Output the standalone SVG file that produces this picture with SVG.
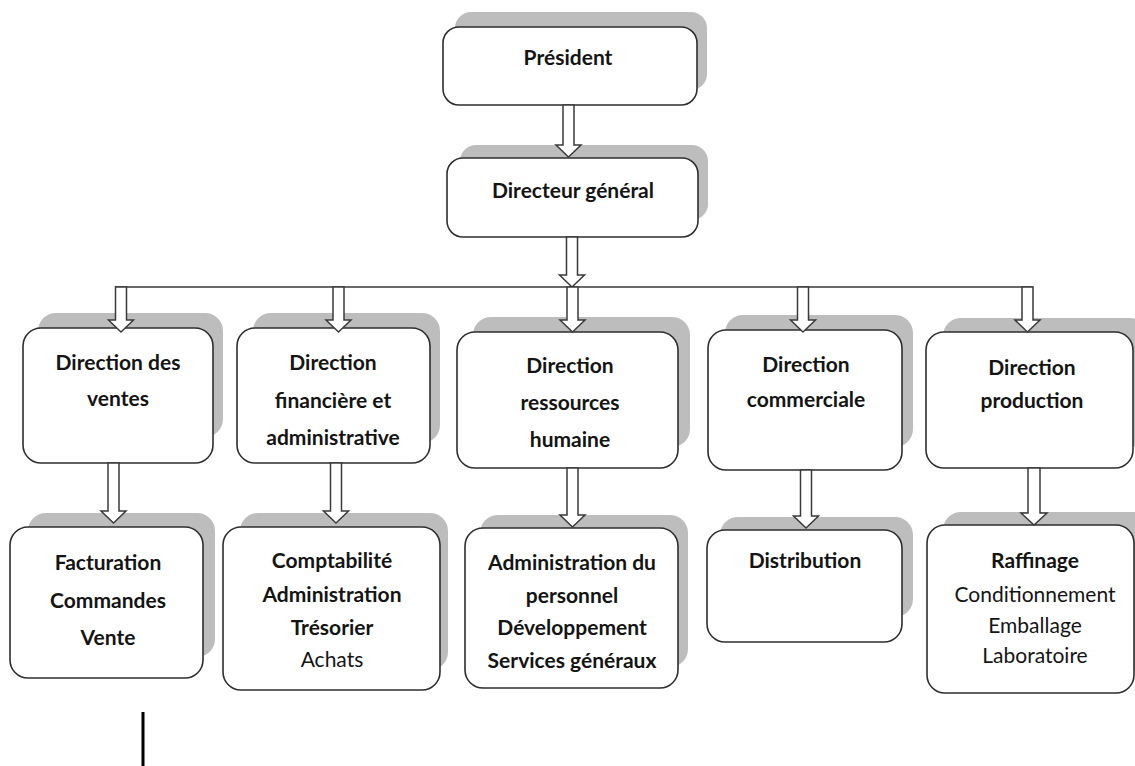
<svg xmlns="http://www.w3.org/2000/svg" width="1135" height="766" viewBox="0 0 1135 766">
<style>
.sh{fill:#bdbdbd;}
.bx{fill:#ffffff;stroke:#2e2e2e;stroke-width:1.6;}
.t{font-family:Lato,"Liberation Sans",Arial,sans-serif;font-size:21px;font-weight:bold;fill:#141414;text-anchor:middle;}
.r{font-family:Lato,"Liberation Sans",Arial,sans-serif;font-size:21px;fill:#141414;text-anchor:middle;}
.ar{fill:#ffffff;stroke:#3a3a3a;stroke-width:1.5;stroke-linejoin:miter;}
.ln{fill:none;stroke:#3a3a3a;stroke-width:1.5;}
</style>
<rect width="1135" height="766" fill="#ffffff"/>

<g id="president">
<rect class="sh" x="455" y="12" width="252" height="78" rx="16"/>
<rect class="bx" x="443" y="27" width="254" height="78" rx="16"/>
<text class="t" x="568" y="65">Président</text>
</g>
<g id="dg">
<rect class="sh" x="460" y="145" width="248" height="75" rx="16"/>
<rect class="bx" x="447" y="158" width="251" height="79" rx="16"/>
<text class="t" x="573" y="198">Directeur général</text>
</g>
<g id="dir-ventes">
<rect class="sh" x="38" y="313" width="185" height="124" rx="18"/>
<rect class="bx" x="23" y="328" width="190" height="135" rx="18"/>
<text class="t" x="118" y="370">Direction des</text>
<text class="t" x="118" y="406">ventes</text>
</g>
<g id="dir-finance">
<rect class="sh" x="253" y="313" width="187" height="130" rx="18"/>
<rect class="bx" x="237" y="328" width="193" height="135" rx="18"/>
<text class="t" x="333" y="370">Direction</text>
<text class="t" x="333" y="408">financière et</text>
<text class="t" x="333" y="445">administrative</text>
</g>
<g id="dir-rh">
<rect class="sh" x="473" y="317" width="217" height="130" rx="18"/>
<rect class="bx" x="457" y="332" width="221" height="136" rx="18"/>
<text class="t" x="570" y="373">Direction</text>
<text class="t" x="570" y="410">ressources</text>
<text class="t" x="570" y="447">humaine</text>
</g>
<g id="dir-commerciale">
<rect class="sh" x="725" y="315" width="188" height="132" rx="18"/>
<rect class="bx" x="708" y="330" width="194" height="140" rx="18"/>
<text class="t" x="806" y="372">Direction</text>
<text class="t" x="806" y="407">commerciale</text>
</g>
<g id="dir-production">
<rect class="sh" x="943" y="318" width="205" height="129" rx="18"/>
<rect class="bx" x="926" y="332" width="207" height="136" rx="18"/>
<text class="t" x="1032" y="375">Direction</text>
<text class="t" x="1032" y="408">production</text>
</g>
<g id="ventes-services">
<rect class="sh" x="28" y="513" width="187" height="144" rx="18"/>
<rect class="bx" x="10" y="527" width="193" height="151" rx="18"/>
<text class="t" x="108" y="570">Facturation</text>
<text class="t" x="108" y="608">Commandes</text>
<text class="t" x="108" y="645">Vente</text>
</g>
<g id="finance-services">
<rect class="sh" x="240" y="513" width="208" height="157" rx="18"/>
<rect class="bx" x="223" y="527" width="217" height="163" rx="18"/>
<text class="t" x="332" y="568">Comptabilité</text>
<text class="t" x="332" y="602">Administration</text>
<text class="t" x="332" y="635">Trésorier</text>
<text class="r" x="332" y="667">Achats</text>
</g>
<g id="rh-services">
<rect class="sh" x="480" y="515" width="208" height="152" rx="18"/>
<rect class="bx" x="465" y="528" width="213" height="160" rx="18"/>
<text class="t" x="572" y="570">Administration du</text>
<text class="t" x="572" y="603">personnel</text>
<text class="t" x="572" y="635">Développement</text>
<text class="t" x="572" y="668">Services généraux</text>
</g>
<g id="commerciale-services">
<rect class="sh" x="720" y="517" width="193" height="100" rx="18"/>
<rect class="bx" x="707" y="530" width="195" height="112" rx="18"/>
<text class="t" x="805" y="568">Distribution</text>
</g>
<g id="production-services">
<rect class="sh" x="943" y="512" width="210" height="158" rx="18"/>
<rect class="bx" x="927" y="525" width="207" height="168" rx="18"/>
<text class="t" x="1035" y="568">Raffinage</text>
<text class="r" x="1035" y="602">Conditionnement</text>
<text class="r" x="1035" y="633">Emballage</text>
<text class="r" x="1035" y="663">Laboratoire</text>
</g>

<g id="connectors">
<path class="ln" d="M115,287 H1032 V292"/>
<path class="ar" d="M563,105 L574,105 L574,145 L581,145 L568.5,157 L556,145 L563,145 Z"/>
<path class="ar" d="M566.5,237 L577.5,237 L577.5,275 L584.5,275 L572,287 L559.5,275 L566.5,275 Z"/>
<path class="ar" d="M115.5,287 L126.5,287 L126.5,320 L133.5,320 L121,332 L108.5,320 L115.5,320 Z"/>
<path class="ar" d="M333,287 L344,287 L344,320 L351,320 L338.5,332 L326,320 L333,320 Z"/>
<path class="ar" d="M567,287 L578,287 L578,320 L585,320 L572.5,332 L560,320 L567,320 Z"/>
<path class="ar" d="M797.5,287 L808.5,287 L808.5,320 L815.5,320 L803,332 L790.5,320 L797.5,320 Z"/>
<path class="ar" d="M1022,287 L1033,287 L1033,320 L1040,320 L1027.5,332 L1015,320 L1022,320 Z"/>
<path class="ar" d="M108,463 L119,463 L119,511 L126,511 L113.5,523 L101,511 L108,511 Z"/>
<path class="ar" d="M330.5,463 L341.5,463 L341.5,511 L348.5,511 L336,523 L323.5,511 L330.5,511 Z"/>
<path class="ar" d="M567,468 L578,468 L578,515 L585,515 L572.5,527 L560,515 L567,515 Z"/>
<path class="ar" d="M800.5,470 L811.5,470 L811.5,516 L818.5,516 L806,528 L793.5,516 L800.5,516 Z"/>
<path class="ar" d="M1028,468 L1040,468 L1040,513 L1047,513 L1034,525 L1021,513 L1028,513 Z"/>
</g>

<line x1="143" y1="712" x2="143" y2="766" stroke="#000000" stroke-width="3"/>
</svg>
